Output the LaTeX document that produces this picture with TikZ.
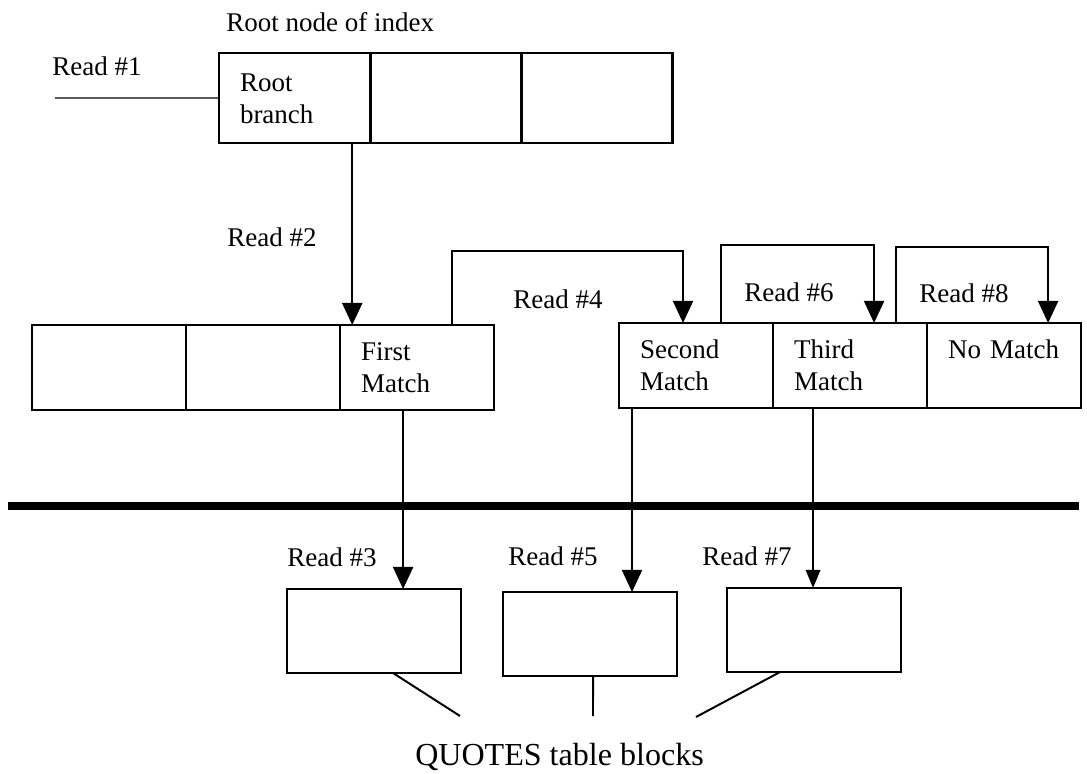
\documentclass[tikz,border=0pt]{standalone}
\usepackage{fontspec}
\setmainfont{Liberation Serif}
\usetikzlibrary{arrows.meta,positioning}
\tikzset{
  cell/.style={draw, line width=1.8pt, anchor=north west, inner xsep=0.525cm, inner ysep=0pt,
    outer sep=0pt, text width=#1, align=left, minimum height=2.125cm,
    text height=0.45cm, text depth=0.8cm},
  cell/.default=2.8cm,
  qbox/.style={draw, line width=1.8pt, anchor=north west, outer sep=0pt,
    minimum width=4.35cm, minimum height=2.1cm},
  lbl/.style={anchor=base west, inner sep=0pt},
  link/.style={line width=1.4pt},
  arr/.style={link, -{Triangle[length=0.55cm,width=0.5cm]}},
  smallarr/.style={link, -{Triangle[length=0.45cm,width=0.36cm]}},
}
\begin{document}
\begin{tikzpicture}[x=0.025cm, y=-0.025cm, font=\fontsize{19.2}{22.8}\selectfont]
  \useasboundingbox (0,0) rectangle (1087,774);
  % root node of the index
  \node[lbl] (title) at (226,32) {Root node of index};
  \node[cell=2.73cm, minimum height=2.25cm] (root) at (219,53) {Root\\branch};
  \node[cell=2.73cm, minimum height=2.25cm, right=0pt of root] (rb2) {};
  \node[cell=2.73cm, minimum height=2.25cm, right=0pt of rb2] (rb3) {};
  \node[lbl] (read1) at (52,76) {Read \#1};
  \coordinate (in1) at (55,98);
  \draw[line width=0.8pt] (in1) -- (root.west);
  % leaf blocks
  \node[cell] (lf1) at (32,325) {};
  \node[cell, right=0pt of lf1] (lf2) {};
  \node[cell, right=0pt of lf2] (first) {First\\Match};
  \node[cell] (second) at (619,323) {Second\\Match};
  \node[cell, right=0pt of second] (third) {Third\\Match};
  \node[cell, right=0pt of third] (nomatch) {No Match};
  \node[lbl] (read2) at (227,247) {Read \#2};
  \draw[arr] ([xshift=-0.45cm]root.south east) coordinate (d2) -- (d2 |- first.north);
  \node[lbl] (read4) at (513,309) {Read \#4};
  \draw[arr] ([xshift=2.8cm]first.north west) |- ([xshift=1.6cm,yshift=1.8cm]second.north west)
    -- ([xshift=1.6cm]second.north west);
  \node[lbl] (read6) at (744,302) {Read \#6};
  \draw[arr] ([xshift=2.55cm]second.north west) |- ([xshift=2.525cm,yshift=1.95cm]third.north west)
    -- ([xshift=2.525cm]third.north west);
  \node[lbl] (read8) at (919,303) {Read \#8};
  \draw[arr] ([xshift=3.075cm]third.north west) |- ([xshift=3.025cm,yshift=1.9cm]nomatch.north west)
    -- ([xshift=3.025cm]nomatch.north west);
  % separator
  \coordinate (sepL) at (8,506);
  \coordinate (sepR) at (1079,506);
  \draw[line width=5pt] (sepL) -- (sepR);
  % table blocks
  \node[qbox] (q1) at (287,589) {};
  \node[qbox] (q2) at (503,592) {};
  \node[qbox] (q3) at (727,588) {};
  \node[lbl] (read3) at (287,566) {Read \#3};
  \node[lbl] (read5) at (508,565) {Read \#5};
  \node[lbl] (read7) at (702,565) {Read \#7};
  \draw[arr] ([xshift=1.575cm]first.south west) coordinate (d3) -- (d3 |- q1.north);
  \draw[arr] ([xshift=0.325cm]second.south west) coordinate (d5) -- (d5 |- q2.north);
  \draw[smallarr] ([xshift=1cm]third.south west) coordinate (d7) -- (d7 |- q3.north);
  \node[lbl, font=\fontsize{22.8}{27}\selectfont] (quotes) at (415,765) {QUOTES table blocks};
  \coordinate (j1) at (460,716);
  \coordinate (j2) at (593,716);
  \coordinate (j3) at (696,717);
  \draw[link] ([xshift=2.65cm]q1.south west) -- (j1);
  \draw[link] ([xshift=2.25cm]q2.south west) -- (j2);
  \draw[link] ([xshift=1.325cm]q3.south west) -- (j3);
\end{tikzpicture}
\end{document}
